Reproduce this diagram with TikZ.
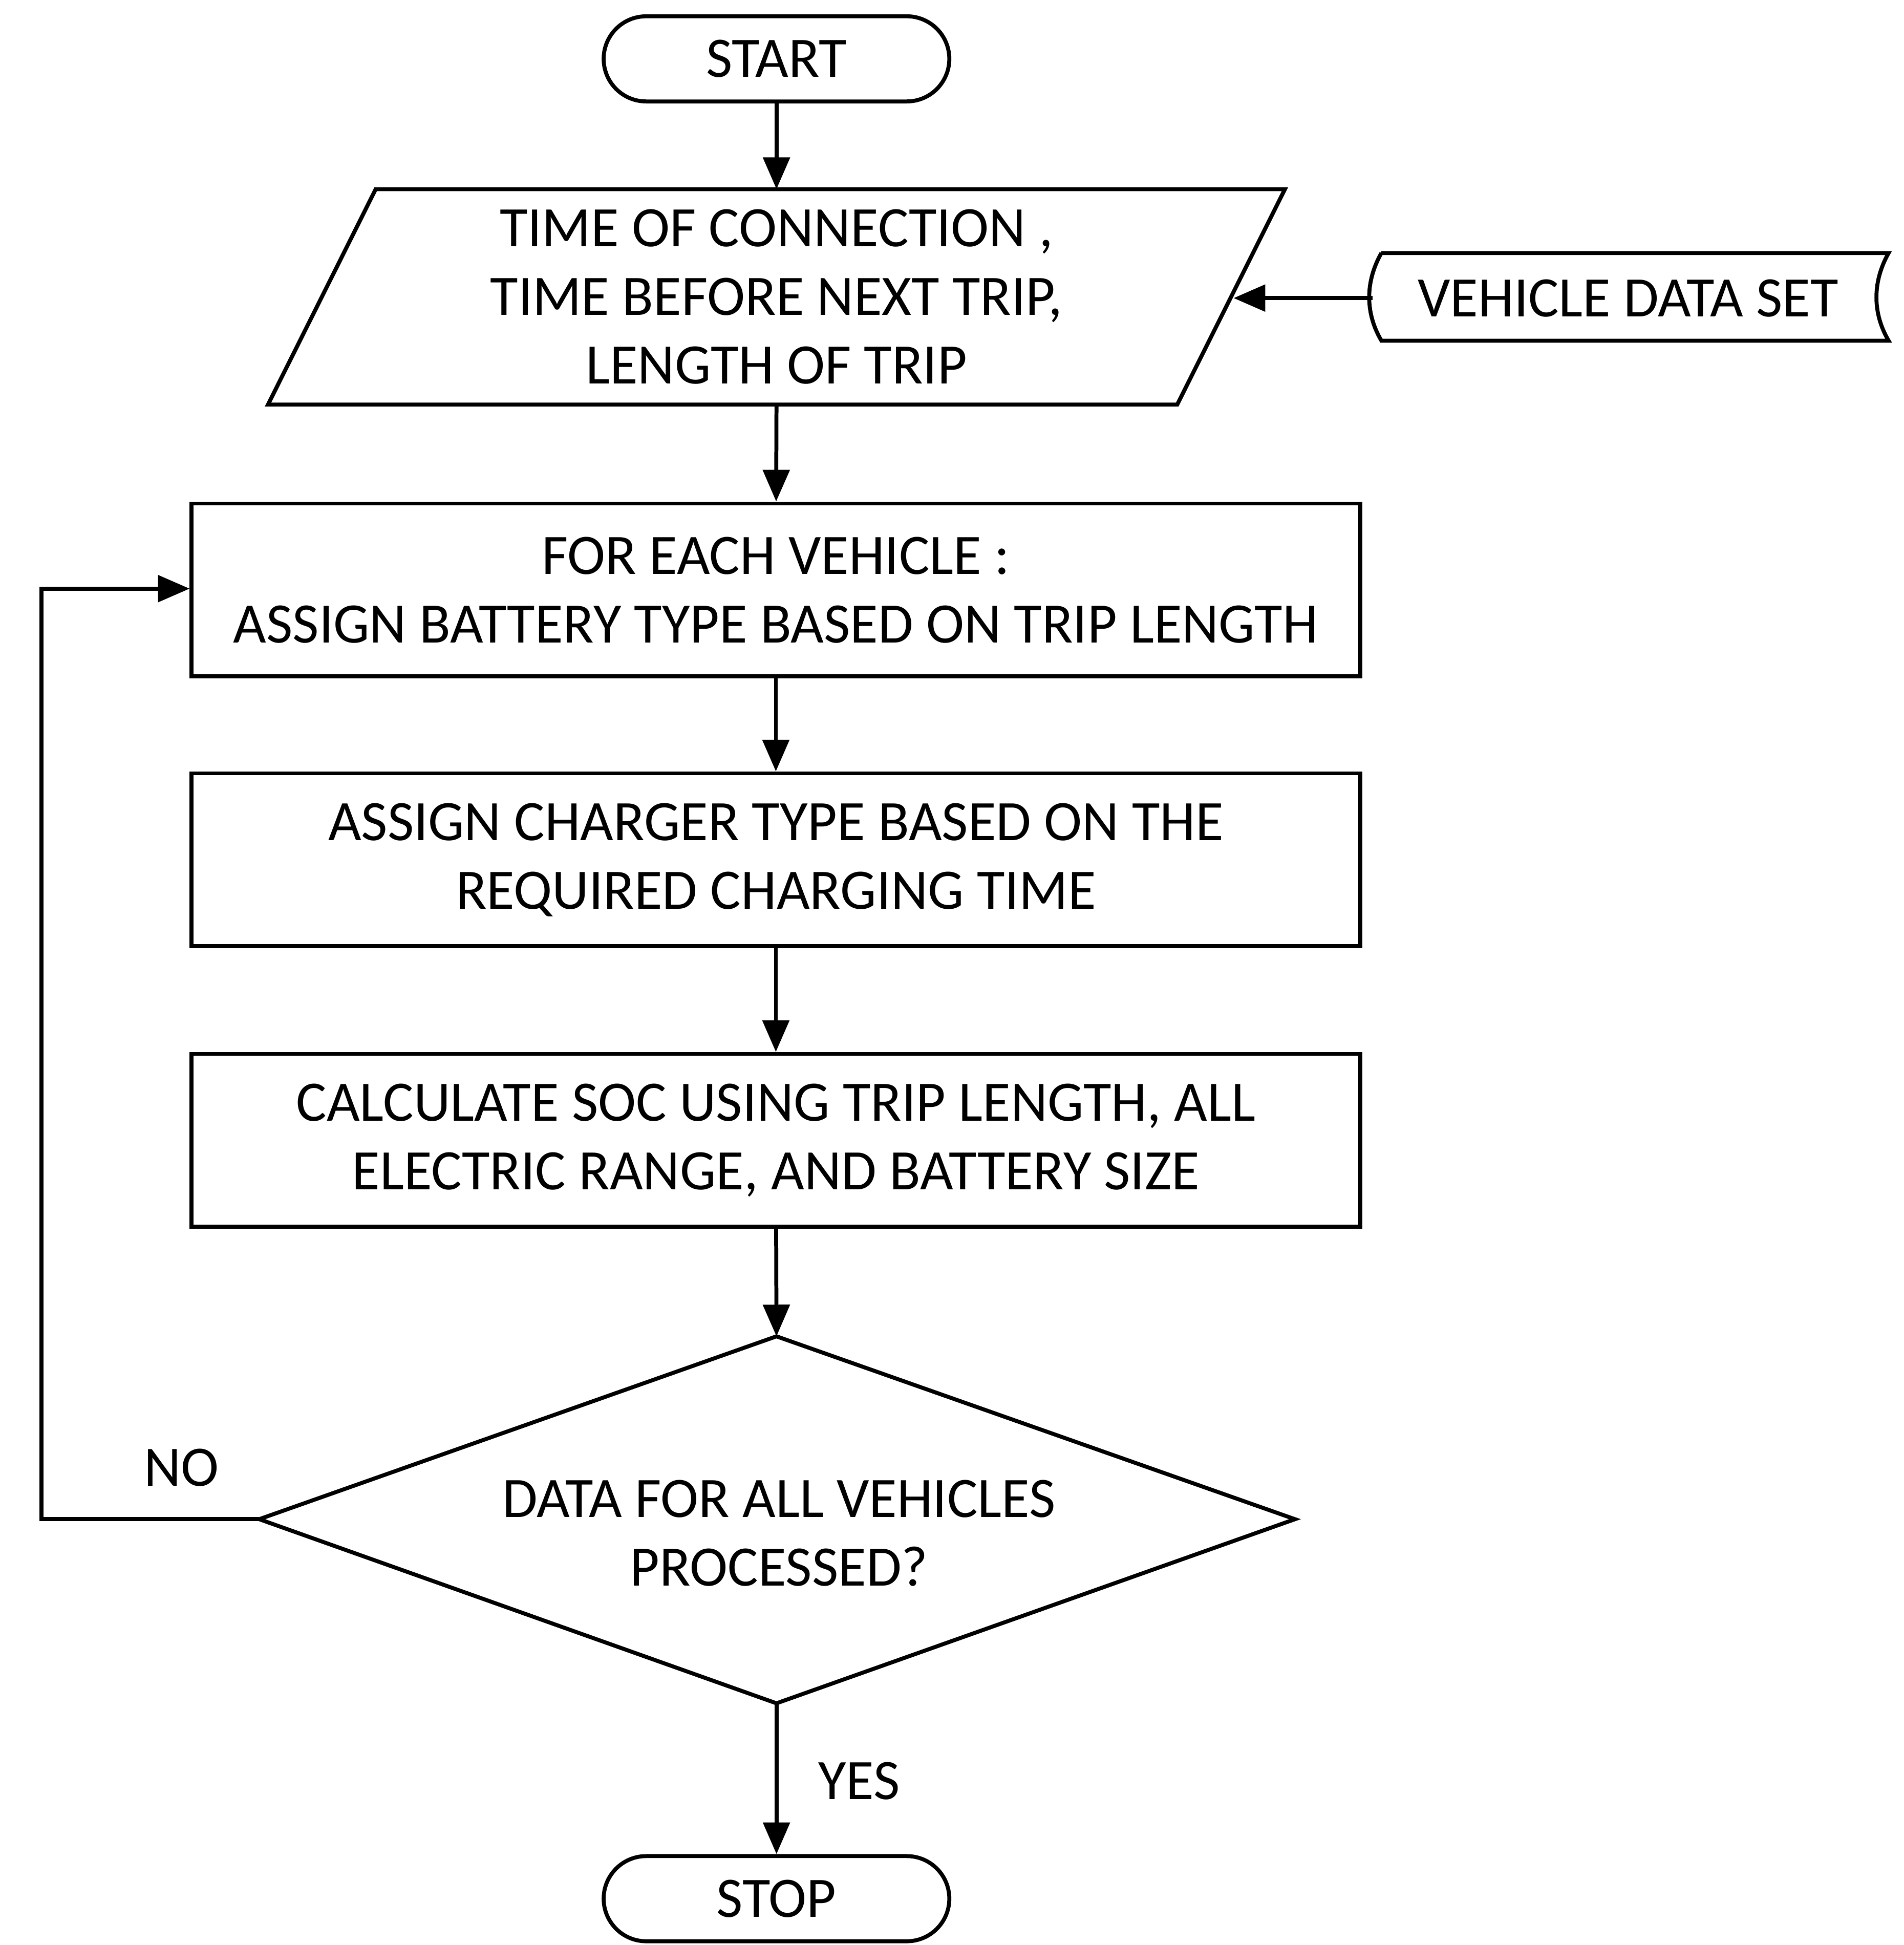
\documentclass[tikz,border=0pt]{standalone}
\usepackage{fontspec}
\setmainfont{Carlito}
\usetikzlibrary{arrows.meta}
\begin{document}
\begin{tikzpicture}[x=0.05cm,y=-0.05cm,
  line width=4.5pt,
  arr/.style={-{Triangle[length=36pt,width=30pt]}},
  txt/.style={font=\fontsize{65}{78}\selectfont, align=center, inner sep=0pt},
  box/.style={draw, minimum width=933*0.05cm, minimum height=138*0.05cm, txt}]
\useasboundingbox (0,0) rectangle (1520,1553);
\node[draw, rounded corners=34*0.05cm, minimum width=276*0.05cm, minimum height=68*0.05cm, txt] (start) at (620,47) {START};
\draw (300,151) -- (1026,151) -- (940,323) -- (214,323) -- cycle;
\node[txt] (inp) at (620,237) {TIME OF CONNECTION ,\\TIME BEFORE NEXT TRIP,\\LENGTH OF TRIP};
\coordinate (inpT) at (620,151);
\coordinate (inpB) at (620,323);
\coordinate (inpR) at (985,238);
\draw (1103,202) -- (1508,202) .. controls (1495,225) and (1495,250) .. (1508,272) -- (1103,272) .. controls (1090,250) and (1090,225) .. (1103,202);
\node[txt] (vds) at (1300,238) {VEHICLE DATA SET};
\coordinate (vdsL) at (1096,238);
\node[box] (b1) at (619.5,471) {FOR EACH VEHICLE :\\ASSIGN BATTERY TYPE BASED ON TRIP LENGTH};
\node[box] (b2) at (619.5,686.5) {ASSIGN CHARGER TYPE BASED ON THE\\REQUIRED CHARGING TIME};
\node[box] (b3) at (619.5,910.5) {CALCULATE SOC USING TRIP LENGTH, ALL\\ELECTRIC RANGE, AND BATTERY SIZE};
\draw (620,1067) -- (1034,1213) -- (620,1360) -- (207,1213) -- cycle;
\node[txt] (dec) at (622,1224) {DATA FOR ALL VEHICLES\\PROCESSED?};
\coordinate (decT) at (620,1067);
\coordinate (decB) at (620,1360);
\coordinate (decL) at (207,1213);
\node[draw, rounded corners=34*0.05cm, minimum width=276*0.05cm, minimum height=68*0.05cm, txt] (stop) at (620,1516) {STOP};
\coordinate (c1) at (33,1213);
\coordinate (c2) at (33,470);
\draw[arr] (start) -- (inpT);
\draw[arr] (vdsL) -- (inpR);
\draw[arr] (inpB) -- (b1);
\draw[arr] (b1) -- (b2);
\draw[arr] (b2) -- (b3);
\draw[arr] (b3) -- (decT);
\draw[arr] (decB) -- (stop);
\draw[arr] (decL) -- (c1) -- (c2) -- (b1.west |- c2);
\node[txt] (no) at (145,1172) {NO};
\node[txt] (yes) at (686,1422) {YES};
\end{tikzpicture}
\end{document}
